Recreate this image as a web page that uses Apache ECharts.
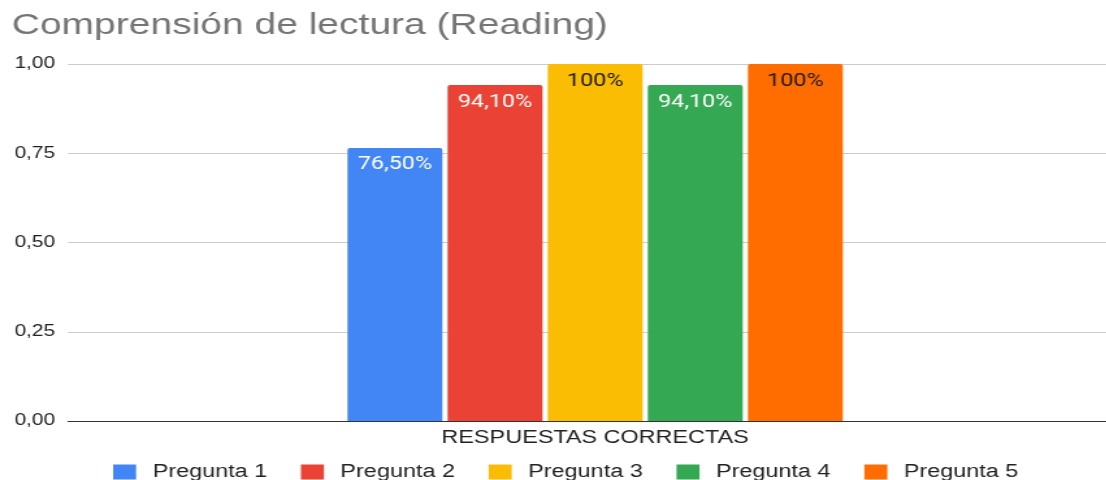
<!DOCTYPE html>
<html>
<head>
<meta charset="utf-8">
<script src="https://cdn.jsdelivr.net/npm/echarts@6/dist/echarts.min.js"></script>
<style>
  html, body { margin: 0; padding: 0; background: #fff; overflow: hidden; }
  /* El gráfico original está estirado en horizontal; se dibuja más estrecho y se escala. */
  #chart { width: 851px; height: 480px; transform: scaleX(1.3); transform-origin: 0 0; }
</style>
</head>
<body>
<div id="chart"></div>
<script>
  const CATEGORIES = ['RESPUESTAS CORRECTAS']
  const SERIES_NAMES = ['Pregunta 1', 'Pregunta 2', 'Pregunta 3', 'Pregunta 4', 'Pregunta 5']
  const VALUES = [0.765, 0.941, 1.0, 0.941, 1.0]
  const LABELS = ['76,50%', '94,10%', '100%', '94,10%', '100%']
  const COLORS = ['#4285f4', '#ea4335', '#fbbc04', '#34a853', '#ff6d01']
  const LABEL_COLORS = ['#ffffff', '#ffffff', '#1a1a1a', '#ffffff', '#1a1a1a']
  const Y_TICKS = { min: 0, max: 1, interval: 0.25 }

  const chart = echarts.init(document.getElementById('chart'))
  const FONT = 'Liberation Sans, Arial, sans-serif'

  chart.setOption({
    animation: false,
    title: {
      text: 'Comprensión de lectura (Reading)', left: 9, top: 11, padding: 0,
      textStyle: { fontFamily: FONT, fontSize: 30, fontWeight: 'normal', color: '#757575' }
    },
    legend: {
      left: 87, top: 463, padding: 0, itemGap: 26, itemWidth: 17.7, itemHeight: 15,
      icon: 'rect',
      textStyle: { fontFamily: FONT, fontSize: 18, color: '#222', padding: [0, 0, 0, 7.7] },
      data: SERIES_NAMES
    },
    grid: { left: 52.3, top: 64, width: 811, height: 357, outerBoundsMode: 'none' },
    xAxis: {
      type: 'category', data: CATEGORIES,
      axisLine: { lineStyle: { color: '#333', width: 1 } },
      axisTick: { show: false },
      axisLabel: { margin: 8, fontFamily: FONT, fontSize: 18, color: '#222' }
    },
    yAxis: {
      type: 'value', min: Y_TICKS.min, max: Y_TICKS.max, interval: Y_TICKS.interval,
      axisLine: { show: false }, axisTick: { show: false },
      splitLine: { lineStyle: { color: '#cccccc' } },
      axisLabel: {
        margin: 10, fontFamily: FONT, fontSize: 16, color: '#222',
        formatter: v => v.toFixed(2).replace('.', ',')
      }
    },
    series: SERIES_NAMES.map((name, i) => ({
      name, type: 'bar', barWidth: 73, barGap: '5.5%',
      itemStyle: { color: COLORS[i], borderRadius: [2, 2, 0, 0] },
      label: {
        show: true, position: 'insideTop', distance: 8,
        formatter: () => LABELS[i],
        fontFamily: 'Roboto, sans-serif', fontSize: 18, fontWeight: 'normal', color: LABEL_COLORS[i]
      },
      data: [VALUES[i]]
    }))
  })
</script>
</body>
</html>
